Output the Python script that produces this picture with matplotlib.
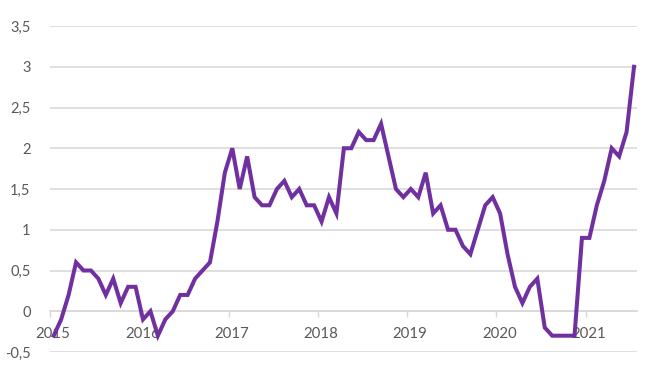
import numpy as np
import matplotlib
matplotlib.use("Agg")
import matplotlib.pyplot as plt
import matplotlib.transforms as mtransforms

# monatliche Werte Jan 2015 - Jul 2021
values = [
    -0.3, -0.1, 0.2, 0.6, 0.5, 0.5, 0.4, 0.2, 0.4, 0.1, 0.3, 0.3,   # 2015
    -0.1, 0.0, -0.3, -0.1, 0.0, 0.2, 0.2, 0.4, 0.5, 0.6, 1.1, 1.7,  # 2016
    2.0, 1.5, 1.9, 1.4, 1.3, 1.3, 1.5, 1.6, 1.4, 1.5, 1.3, 1.3,     # 2017
    1.1, 1.4, 1.2, 2.0, 2.0, 2.2, 2.1, 2.1, 2.3, 1.9, 1.5, 1.4,     # 2018
    1.5, 1.4, 1.7, 1.2, 1.3, 1.0, 1.0, 0.8, 0.7, 1.0, 1.3, 1.4,     # 2019
    1.2, 0.7, 0.3, 0.1, 0.3, 0.4, -0.2, -0.3, -0.3, -0.3, -0.3, 0.9,  # 2020
    0.9, 1.3, 1.6, 2.0, 1.9, 2.2, 3.0,                               # 2021
]
years = ["2015", "2016", "2017", "2018", "2019", "2020", "2021"]
y_ticks = [-0.5, 0, 0.5, 1, 1.5, 2, 2.5, 3, 3.5]
y_labels = ["-0,5", "0", "0,5", "1", "1,5", "2", "2,5", "3", "3,5"]

plt.rcParams['font.family'] = ['Lato', 'DejaVu Sans']

fig = plt.figure(figsize=(6.52, 3.65), dpi=100)
ax = fig.add_axes([50 / 652, 13 / 365, 587 / 652, 326 / 365])

months = np.arange(len(values))
ax.plot(months, values, color="#7030A0", linewidth=2.9, solid_joinstyle="miter", zorder=3)

ax.set_xlim(-0.5, 78.4)
ax.set_ylim(-0.5, 3.5)

# Gitterlinien
ax.set_yticks(y_ticks)
ax.set_yticklabels(y_labels)
ax.yaxis.grid(True, color="#d9d9d9", linewidth=1.2)
ax.tick_params(axis="y", length=0, pad=14, labelsize=10.5, labelcolor="#595959")

# x-Achse bei 0
ax.set_xticks([12 * k - 0.5 for k in range(len(years))])
ax.set_xticklabels(years)
ax.spines["bottom"].set_position(("data", 0))
ax.spines["bottom"].set_color("#d9d9d9")
ax.spines["bottom"].set_linewidth(1.2)
ax.tick_params(axis="x", length=4, width=1, color="#d9d9d9", pad=7,
               labelsize=10.8, labelcolor="#595959")
shift = mtransforms.ScaledTranslation(3 / 100, 0, fig.dpi_scale_trans)
for lab in ax.get_xticklabels():
    lab.set_transform(lab.get_transform() + shift)
for s in ["top", "right", "left"]:
    ax.spines[s].set_visible(False)

fig.savefig("out.png", dpi=100)
